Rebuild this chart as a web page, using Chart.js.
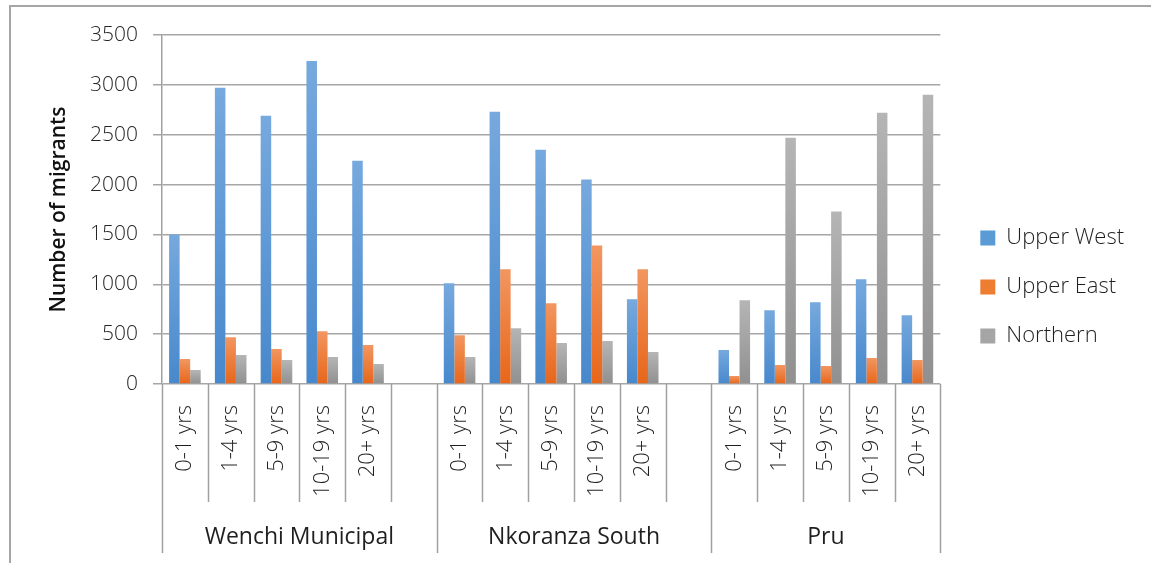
<!DOCTYPE html>
<html>
<head>
<meta charset="utf-8">
<script src="https://cdn.jsdelivr.net/npm/chart.js@4"></script>
<style>
  html,body{margin:0;padding:0;background:#fff;}
  #wrap{position:relative;width:1154px;height:563px;overflow:hidden;}
  #frame{position:absolute;left:9px;top:5px;width:1142px;height:600px;border-top:2px solid #a6a6a6;border-left:2px solid #a6a6a6;box-sizing:border-box;}
  canvas{position:absolute;left:0;top:0;}
</style>
</head>
<body>
<div id="wrap">
  <div id="frame"></div>
  <canvas id="chart" width="1154" height="563"></canvas>
</div>
<script>
const ageLabels=["0-1 yrs","1-4 yrs","5-9 yrs","10-19 yrs","20+ yrs"];
const districts=["Wenchi Municipal","Nkoranza South","Pru"];
// values per district, in age order
const upperWest=[[1500,2970,2690,3240,2240],[1010,2730,2350,2050,850],[340,740,820,1050,690]];
const upperEast=[[250,470,350,530,390],[490,1150,810,1390,1150],[80,190,180,260,240]];
const northern=[[140,290,240,270,200],[270,560,410,430,320],[840,2470,1730,2720,2900]];
const yTicks=[0,500,1000,1500,2000,2500,3000,3500];

// flatten with an empty slot after each district except the last (like Excel)
const labels=[];const groupStart=[];
function flat(arr){
  const out=[];
  arr.forEach((g,i)=>{out.push(...g);if(i<arr.length-1)out.push(null);});
  return out;
}
districts.forEach((d,i)=>{
  groupStart.push(labels.length);
  labels.push(...ageLabels);
  if(i<districts.length-1)labels.push("");
});
groupStart.push(labels.length);

function grad(top,bottom){
  return c=>{
    const ch=c.chart,y=ch.scales.y;
    if(!ch.chartArea||!y||c.raw==null)return bottom;
    const y0=y.getPixelForValue(0),y1=y.getPixelForValue(c.raw);
    if(!isFinite(y1)||y0===y1)return bottom;
    const g=ch.ctx.createLinearGradient(0,y1,0,y0);
    g.addColorStop(0,top);g.addColorStop(1,bottom);
    return g;
  };
}
const solid=["#5b9bd5","#ed7d31","#a5a5a5"];

const groupAxis={
  id:"groupAxis",
  afterDraw(chart){
    const x=chart.scales.x,ctx=chart.ctx;
    const slot=x.getPixelForValue(1)-x.getPixelForValue(0);
    const top=x.top;
    ctx.save();
    ctx.strokeStyle="#a0a0a0";ctx.lineWidth=1.5;
    for(let i=0;i<=labels.length;i++){
      const px=Math.round(x.getPixelForValue(i)-slot/2)+0.5;
      const long=groupStart.includes(i);
      ctx.beginPath();ctx.moveTo(px,top);ctx.lineTo(px,long?top+169:top+118);ctx.stroke();
    }
    ctx.fillStyle="#1f1f1f";ctx.font="23px 'Open Sans'";ctx.textAlign="center";ctx.textBaseline="middle";
    districts.forEach((d,i)=>{
      const a=x.getPixelForValue(groupStart[i])-slot/2,b=x.getPixelForValue(groupStart[i+1])-slot/2;
      ctx.fillText(d,(a+b)/2,top+153);
    });
    ctx.restore();
  }
};

new Chart(document.getElementById("chart"),{
  type:"bar",
  data:{
    labels,
    datasets:[
      {label:"Upper West",data:flat(upperWest),backgroundColor:grad("#76a9de","#4788cc")},
      {label:"Upper East",data:flat(upperEast),backgroundColor:grad("#f29660","#e7661a")},
      {label:"Northern",data:flat(northern),backgroundColor:grad("#b5b5b5","#909090")}
    ]
  },
  options:{
    responsive:false,animation:false,
    layout:{padding:{top:35,right:20,left:0,bottom:24}},
    datasets:{bar:{categoryPercentage:0.69,barPercentage:1,borderWidth:0}},
    plugins:{
      tooltip:{enabled:false},
      legend:{
        position:"right",
        labels:{
          boxWidth:15,boxHeight:15,padding:27,color:"#1f1f1f",
          font:{family:"'Open Sans'",size:22,weight:"300"},
          generateLabels:ch=>ch.data.datasets.map((d,i)=>({text:d.label,fillStyle:solid[i],strokeStyle:solid[i],lineWidth:0,hidden:false,datasetIndex:i,fontColor:"#1f1f1f"}))
        }
      }
    },
    scales:{
      x:{
        grid:{display:false},border:{display:false},
        ticks:{minRotation:90,maxRotation:90,autoSkip:false,padding:13,color:"#1f1f1f",font:{family:"'Open Sans'",size:22,weight:"300"}},
        afterFit:s=>{s.height=155;}
      },
      y:{
        min:0,max:3500,
        afterBuildTicks:s=>{s.ticks=yTicks.map(v=>({value:v}));},
        grid:{color:"#a6a6a6",lineWidth:1.5,tickLength:9},
        border:{color:"#a0a0a0",width:1.5},
        ticks:{padding:15,color:"#262626",callback:v=>String(v),font:{family:"'Open Sans'",size:21,weight:"300"}},
        title:{display:true,text:"Number of migrants",color:"#111",font:{family:"'Open Sans'",size:21,weight:"600"},padding:{top:46,bottom:0}},
        afterFit:s=>{s.width=162;}
      },
      // empty spacer between plot and legend
      gap:{
        position:"right",display:true,
        grid:{display:false},border:{display:false},ticks:{display:false},
        afterFit:s=>{s.width=13;}
      }
    }
  },
  plugins:[groupAxis]
});
</script>
</body>
</html>
